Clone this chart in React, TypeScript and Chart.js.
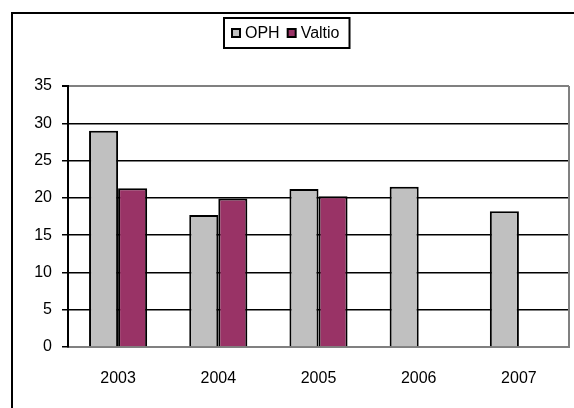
import React, { useEffect, useRef } from "react";
import { Chart, registerables } from "chart.js";

Chart.register(...registerables);

const categories = ["2003", "2004", "2005", "2006", "2007"];
const seriesNames = ["OPH", "Valtio"];
const ophValues = [29, 17.7, 21.2, 21.5, 18.2];
const valtioValues: (number | null)[] = [21.3, 19.9, 20.2, null, null];
const seriesColors = ["#C0C0C0", "#993366"];
const yMin = 0;
const yMax = 35;
const yStep = 5;

const FONT = '"Liberation Sans", Arial, sans-serif';

const framePlugin = {
  id: "frame",
  beforeDraw(chart: any) {
    const { ctx, width, height } = chart;
    ctx.save();
    ctx.fillStyle = "#ffffff";
    ctx.fillRect(0, 0, width, height);
    ctx.strokeStyle = "#000000";
    ctx.lineWidth = 2;
    ctx.beginPath();
    ctx.moveTo(12, height);
    ctx.lineTo(12, 13);
    ctx.lineTo(width, 13);
    ctx.stroke();
    ctx.restore();
  },
  afterDatasetsDraw(chart: any) {
    const { ctx, chartArea } = chart;
    ctx.save();
    ctx.strokeStyle = "#808080";
    ctx.lineWidth = 2;
    ctx.beginPath();
    ctx.moveTo(chartArea.right, chartArea.top);
    ctx.lineTo(chartArea.right, chartArea.bottom);
    ctx.stroke();
    ctx.restore();
  },
};

const boxLegendPlugin = {
  id: "boxLegend",
  afterDraw(chart: any) {
    const { ctx } = chart;
    ctx.save();
    ctx.font = `16px ${FONT}`;
    ctx.textBaseline = "middle";
    const items = chart.data.datasets.map((ds: any) => ({
      label: ds.label as string,
      color: ds.backgroundColor as string,
      w: ctx.measureText(ds.label).width,
    }));
    const sq = 8;
    const gap = 5;
    const itemGap = 8;
    const padL = 8;
    const padR = 10;
    let total = padL + padR;
    items.forEach((it: any, i: number) => {
      total += sq + gap + it.w + (i > 0 ? itemGap : 0);
    });
    const left = Math.round(chart.width / 2 - total / 2);
    const top = 18;
    const h = 30;
    ctx.fillStyle = "#ffffff";
    ctx.fillRect(left, top, total, h);
    ctx.strokeStyle = "#000000";
    ctx.lineWidth = 2;
    ctx.strokeRect(left, top, total, h);
    let x = left + padL;
    const cy = top + h / 2;
    items.forEach((it: any, i: number) => {
      if (i > 0) x += itemGap;
      ctx.fillStyle = it.color;
      ctx.fillRect(x, cy - sq / 2, sq, sq);
      ctx.strokeStyle = "#000000";
      ctx.lineWidth = 2;
      ctx.strokeRect(x, cy - sq / 2, sq, sq);
      x += sq + gap;
      ctx.fillStyle = "#000000";
      ctx.textAlign = "left";
      ctx.fillText(it.label, x, cy + 1);
      x += it.w;
    });
    ctx.restore();
  },
};

export default function App() {
  const canvasRef = useRef<HTMLCanvasElement | null>(null);

  useEffect(() => {
    if (!canvasRef.current) return;
    const chart = new Chart(canvasRef.current, {
      type: "bar",
      data: {
        labels: categories,
        datasets: [
          {
            label: seriesNames[0],
            data: ophValues,
            backgroundColor: seriesColors[0],
            borderColor: "#000000",
            borderWidth: 2,
            categoryPercentage: 0.58,
            barPercentage: 1,
          },
          {
            label: seriesNames[1],
            data: valtioValues,
            backgroundColor: seriesColors[1],
            borderColor: "#000000",
            borderWidth: 2,
            categoryPercentage: 0.58,
            barPercentage: 1,
          },
        ],
      },
      options: {
        animation: false,
        responsive: false,
        maintainAspectRatio: false,
        devicePixelRatio: 1,
        layout: { padding: { top: 86, right: 5, bottom: 0, left: 0 } },
        plugins: {
          legend: { display: false },
          tooltip: { enabled: false },
          title: { display: false },
        },
        scales: {
          x: {
            offset: true,
            grid: { display: false, drawTicks: false },
            border: { display: true, color: "#808080", width: 2 },
            ticks: {
              padding: 22,
              color: "#000000",
              font: { family: FONT, size: 16 },
              maxRotation: 0,
            },
            afterFit(scale: any) {
              scale.height = 61;
            },
          },
          y: {
            min: yMin,
            max: yMax,
            ticks: {
              stepSize: yStep,
              padding: 10,
              color: "#000000",
              font: { family: FONT, size: 16 },
            },
            grid: {
              color: (c: any) =>
                c.tick && (c.tick.value === yMax || c.tick.value === yMin)
                  ? "#808080"
                  : "#000000",
              lineWidth: (c: any) => (c.tick && c.tick.value === yMax ? 2 : 1.5),
              tickColor: "#000000",
              tickLength: 6,
              drawTicks: true,
            },
            border: { display: true, color: "#000000", width: 2 },
            afterFit(scale: any) {
              scale.width = 68;
            },
          },
        },
      },
      plugins: [framePlugin, boxLegendPlugin],
    });
    return () => chart.destroy();
  }, []);

  return (
    <div style={{ position: "fixed", left: 0, top: 0, width: 574, height: 408, background: "#fff" }}>
      <canvas ref={canvasRef} width={574} height={408} style={{ width: 574, height: 408, display: "block" }} />
    </div>
  );
}
